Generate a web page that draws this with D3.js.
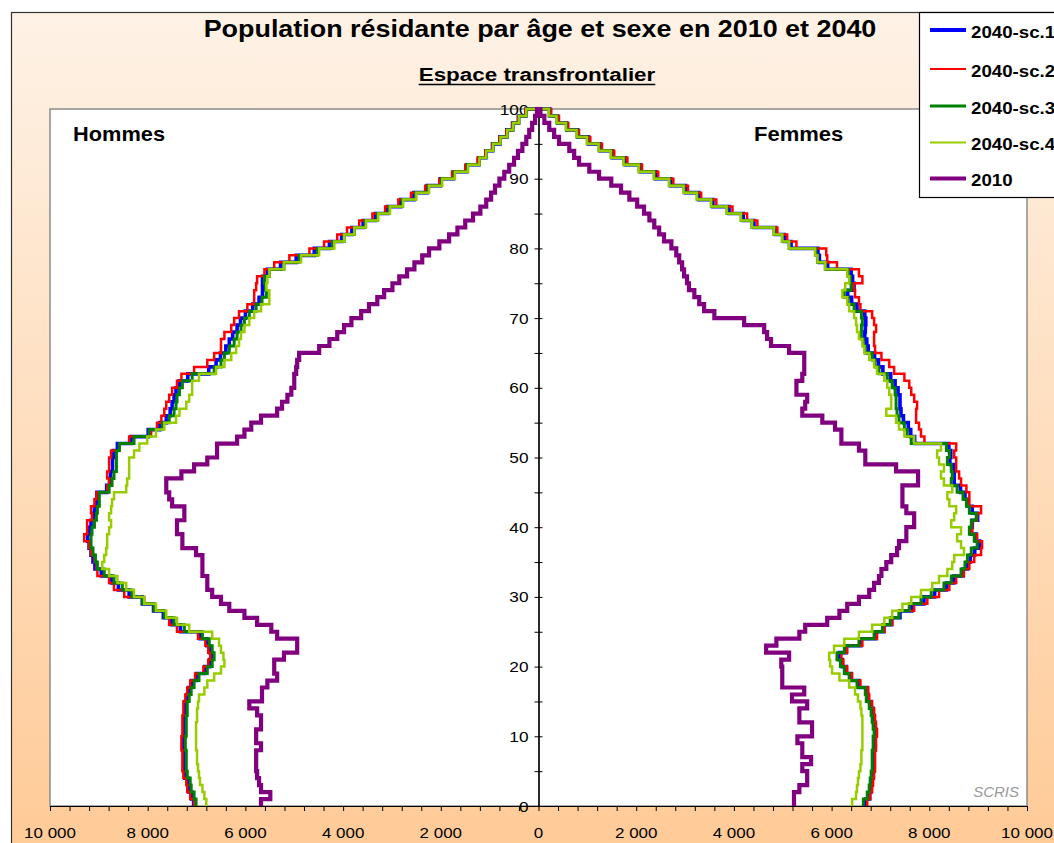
<!DOCTYPE html>
<html>
<head>
<meta charset="utf-8">
<title>Population résidante par âge et sexe en 2010 et 2040</title>
<script src="https://cdn.jsdelivr.net/npm/d3@7"></script>
<style>
  html, body { margin: 0; padding: 0; background: #fff; }
  svg { display: block; font-family: "Liberation Sans", Arial, Helvetica, sans-serif; }
</style>
</head>
<body>
<svg id="chart" width="1054" height="843"></svg>
<script>
// Single-year ages 0..99 (each value covers the band [age, age+1])
const ages = d3.range(0, 100);

// ---- Hommes ----
const men2040sc1 = [7060, 7100, 7160, 7180, 7240, 7260, 7260, 7260, 7280, 7280,
  7260, 7260, 7260, 7240, 7240, 7200, 7160, 7100, 7000, 6830,
  6730, 6690, 6730, 6790, 6930, 7330, 7520, 7680, 7880, 8110,
  8380, 8600, 8740, 8950, 9080, 9120, 9160, 9200, 9230, 9200,
  9160, 9110, 9090, 9050, 9040, 8840, 8780, 8760, 8720, 8720,
  8700, 8620, 8340, 7990, 7750, 7620, 7540, 7500, 7460, 7420,
  7350, 7180, 6750, 6600, 6510, 6400, 6330, 6260, 6170, 6100,
  6000, 5850, 5720, 5650, 5650, 5650, 5550, 5280, 4960, 4590,
  4280, 4030, 3820, 3590, 3340, 3090, 2820, 2550, 2280, 2010,
  1740, 1470, 1220, 1080, 940, 790, 650, 530, 410, 260];
const men2040sc2 = [7050, 7130, 7190, 7210, 7270, 7290, 7290, 7290, 7310, 7310,
  7290, 7290, 7290, 7270, 7270, 7230, 7190, 7130, 7030, 6860,
  6760, 6720, 6760, 6820, 6970, 7400, 7560, 7660, 7870, 8070,
  8480, 8690, 8790, 9030, 9050, 9090, 9160, 9200, 9300, 9240,
  9240, 9140, 9160, 9090, 9050, 8830, 8790, 8830, 8790, 8790,
  8750, 8580, 8380, 7930, 7810, 7720, 7660, 7620, 7560, 7500,
  7400, 7310, 7050, 6780, 6640, 6500, 6500, 6430, 6290, 6230,
  6130, 5960, 5820, 5820, 5780, 5760, 5610, 5410, 5100, 4690,
  4390, 4120, 3920, 3670, 3400, 3140, 2870, 2610, 2320, 2030,
  1770, 1500, 1250, 1090, 950, 800, 660, 540, 420, 270];
const men2040sc3 = [7010, 7050, 7110, 7130, 7190, 7210, 7210, 7210, 7230, 7230,
  7210, 7210, 7210, 7190, 7190, 7150, 7110, 7050, 6950, 6780,
  6680, 6640, 6680, 6740, 6880, 7250, 7460, 7660, 7870, 8110,
  8320, 8520, 8690, 8890, 9030, 9070, 9120, 9160, 9160, 9140,
  9090, 9050, 9030, 8990, 8990, 8790, 8730, 8690, 8640, 8640,
  8640, 8580, 8280, 7970, 7700, 7560, 7460, 7420, 7400, 7350,
  7290, 7090, 6640, 6500, 6430, 6330, 6230, 6170, 6090, 6020,
  5920, 5780, 5660, 5570, 5590, 5610, 5510, 5210, 4900, 4530,
  4220, 3980, 3770, 3550, 3300, 3060, 2790, 2520, 2260, 1990,
  1730, 1460, 1210, 1070, 930, 780, 640, 520, 400, 250];
const men2040sc4 = [6800, 6840, 6880, 6930, 6950, 6970, 6990, 6990, 7010, 7010,
  7010, 7010, 6990, 6990, 6970, 6950, 6840, 6780, 6640, 6500,
  6430, 6450, 6500, 6540, 6680, 7150, 7400, 7620, 7830, 8070,
  8280, 8440, 8620, 8790, 8930, 8890, 8850, 8830, 8830, 8790,
  8750, 8790, 8750, 8730, 8690, 8440, 8420, 8380, 8380, 8380,
  8280, 8170, 8010, 7830, 7660, 7420, 7350, 7210, 7150, 7090,
  7090, 6950, 6600, 6430, 6290, 6190, 6130, 6090, 6020, 5920,
  5820, 5680, 5510, 5510, 5570, 5550, 5510, 5210, 4860, 4490,
  4180, 3980, 3770, 3530, 3280, 3040, 2770, 2500, 2240, 1970,
  1710, 1440, 1210, 1070, 930, 780, 640, 520, 400, 250];
const men2010 = [5680, 5490, 5680, 5720, 5760, 5780, 5780, 5780, 5680, 5780,
  5780, 5680, 5680, 5760, 5920, 5660, 5660, 5550, 5350, 5410,
  5410, 5210, 4940, 4940, 5350, 5470, 5760, 6020, 6330, 6500,
  6680, 6780, 6780, 6880, 6880, 6880, 7010, 7290, 7290, 7400,
  7400, 7250, 7250, 7500, 7560, 7620, 7620, 7310, 7050, 6780,
  6580, 6580, 6170, 6020, 5880, 5680, 5350, 5250, 5140, 5060,
  5000, 5000, 4960, 4940, 4900, 4490, 4280, 4120, 3980, 3830,
  3630, 3470, 3300, 3160, 2990, 2850, 2690, 2540, 2380, 2240,
  2030, 1830, 1660, 1500, 1340, 1190, 1070, 970, 890, 800,
  700, 600, 500, 420, 330, 250, 190, 130, 70, 30];

// ---- Femmes ----
const women2040sc1 = [6700, 6780, 6810, 6830, 6850, 6870, 6870, 6870, 6890, 6890,
  6910, 6890, 6870, 6850, 6810, 6750, 6730, 6560, 6400, 6300,
  6220, 6160, 6300, 6600, 6910, 7070, 7230, 7400, 7640, 7890,
  8110, 8350, 8500, 8690, 8780, 8840, 8930, 9030, 8960, 8860,
  8880, 8990, 8880, 8790, 8730, 8640, 8510, 8510, 8490, 8420,
  8440, 8400, 7700, 7620, 7570, 7470, 7420, 7400, 7400, 7360,
  7300, 7210, 7050, 6960, 6880, 6750, 6720, 6680, 6690, 6700,
  6680, 6520, 6410, 6330, 6460, 6430, 6400, 5920, 5750, 5720,
  5170, 5030, 4850, 4410, 4190, 3900, 3570, 3280, 3010, 2710,
  2400, 2090, 1780, 1510, 1260, 1020, 800, 580, 390, 230];
const women2040sc2 = [6730, 6790, 6830, 6850, 6870, 6890, 6890, 6890, 6910, 6910,
  6930, 6910, 6890, 6870, 6830, 6770, 6750, 6590, 6420, 6320,
  6240, 6200, 6320, 6630, 6930, 7080, 7240, 7380, 7690, 7960,
  8200, 8410, 8550, 8710, 8820, 8920, 9060, 9080, 8980, 8880,
  8880, 8980, 9060, 8820, 8820, 8760, 8650, 8610, 8550, 8550,
  8510, 8550, 7900, 7830, 7790, 7730, 7730, 7750, 7690, 7630,
  7590, 7490, 7280, 7180, 7020, 6890, 6870, 6870, 6910, 6870,
  6830, 6590, 6560, 6480, 6460, 6630, 6560, 6110, 5910, 5890,
  5280, 5090, 4890, 4480, 4270, 3970, 3640, 3330, 3060, 2760,
  2450, 2120, 1820, 1550, 1300, 1060, 830, 610, 420, 260];
const women2040sc3 = [6650, 6730, 6770, 6790, 6810, 6830, 6830, 6830, 6850, 6850,
  6870, 6850, 6830, 6810, 6770, 6710, 6690, 6520, 6360, 6260,
  6180, 6110, 6260, 6560, 6870, 7040, 7200, 7380, 7590, 7830,
  8040, 8300, 8450, 8650, 8730, 8780, 8860, 8980, 8920, 8820,
  8860, 8960, 8820, 8760, 8690, 8570, 8450, 8470, 8450, 8370,
  8410, 8350, 7630, 7550, 7490, 7380, 7340, 7320, 7320, 7300,
  7240, 7140, 6970, 6890, 6830, 6690, 6650, 6610, 6610, 6630,
  6610, 6460, 6340, 6260, 6400, 6380, 6340, 5870, 5710, 5680,
  5130, 4990, 4820, 4370, 4150, 3860, 3540, 3250, 2980, 2680,
  2370, 2060, 1750, 1490, 1240, 1000, 790, 570, 380, 220];
const women2040sc4 = [6420, 6500, 6520, 6540, 6560, 6590, 6610, 6610, 6630, 6630,
  6630, 6630, 6630, 6610, 6590, 6540, 6480, 6360, 6160, 6010,
  5970, 5950, 6050, 6260, 6560, 6830, 7080, 7240, 7450, 7630,
  7830, 8060, 8200, 8370, 8470, 8510, 8710, 8650, 8570, 8650,
  8450, 8510, 8550, 8410, 8370, 8470, 8300, 8240, 8300, 8200,
  8160, 8240, 7690, 7490, 7380, 7320, 7120, 7220, 7220, 7180,
  7140, 7080, 6930, 6870, 6770, 6670, 6630, 6560, 6520, 6500,
  6460, 6360, 6320, 6220, 6280, 6360, 6320, 5870, 5710, 5660,
  5130, 4990, 4820, 4370, 4140, 3850, 3530, 3240, 2970, 2670,
  2360, 2050, 1740, 1480, 1230, 990, 780, 560, 370, 210];
const women2010 = [5230, 5230, 5340, 5500, 5500, 5400, 5580, 5400, 5400, 5300,
  5600, 5600, 5340, 5340, 5500, 5190, 5440, 4990, 4990, 4990,
  4970, 5130, 4660, 4870, 5340, 5460, 5910, 6160, 6320, 6560,
  6770, 6870, 6970, 7020, 7120, 7220, 7340, 7380, 7530, 7530,
  7690, 7690, 7530, 7450, 7450, 7450, 7770, 7770, 7320, 6690,
  6690, 6560, 6200, 6200, 6070, 5810, 5400, 5460, 5500, 5280,
  5280, 5400, 5440, 5440, 5440, 5130, 4760, 4680, 4620, 4210,
  3600, 3390, 3290, 3190, 3080, 3040, 2980, 2940, 2880, 2820,
  2720, 2570, 2470, 2370, 2270, 2160, 2020, 1860, 1690, 1490,
  1240, 1040, 830, 730, 630, 420, 320, 220, 120, 40];

// Series in drawing order (the 2010 curve is drawn last, on top)
const seriesNames = ["2040-sc.1", "2040-sc.2", "2040-sc.3", "2040-sc.4", "2010"];
const seriesColors = ["#0000FF", "#FF0000", "#008000", "#99CC00", "#800080"];
const menSeries = [men2040sc1, men2040sc2, men2040sc3, men2040sc4, men2010];
const womenSeries = [women2040sc1, women2040sc2, women2040sc3, women2040sc4, women2010];

// Axis ticks
const xLabelTicks = [-10000, -8000, -6000, -4000, -2000, 0, 2000, 4000, 6000, 8000, 10000];
const xMinorTicks = d3.range(-10000, 10001, 400);
const yLabelTicks = [0, 10, 20, 30, 40, 50, 60, 70, 80, 90, 100];
const yMinorTicks = d3.range(0, 101, 5);

// Text
const titleText = "Population résidante par âge et sexe en 2010 et 2040";
const subtitleText = "Espace transfrontalier";
const leftLabel = "Hommes";
const rightLabel = "Femmes";
const sourceText = "SCRIS";

// ---------------- drawing ----------------
const W = 1054, H = 843;
const svg = d3.select("#chart");

const plot = { left: 50, top: 109, right: 1027, bottom: 806 };
const xs = d3.scaleLinear().domain([-10000, 10000]).range([plot.left, plot.right]);
const ys = d3.scaleLinear().domain([0, 100]).range([plot.bottom, plot.top]);

// Stretched text helper (chart fonts are slightly wide)
function label(parent, x, y, s, o) {
  return parent.append("text")
    .attr("transform", `translate(${x},${y}) scale(${o.sx || 1},1)`)
    .attr("text-anchor", o.anchor || "start")
    .attr("font-size", o.size)
    .attr("font-weight", o.weight || "normal")
    .attr("font-style", o.style || "normal")
    .attr("fill", o.fill || "#000")
    .text(s);
}

// Chart area background
const defs = svg.append("defs");
const grad = defs.append("linearGradient")
  .attr("id", "bg").attr("x1", 0).attr("y1", 0).attr("x2", 0).attr("y2", 1);
grad.append("stop").attr("offset", "0%").attr("stop-color", "#FEF2E6");
grad.append("stop").attr("offset", "100%").attr("stop-color", "#FFC994");

svg.append("rect").attr("x", 11.5).attr("y", 12.5)
  .attr("width", W + 20).attr("height", H + 20)
  .attr("fill", "url(#bg)").attr("stroke", "#333").attr("stroke-width", 1.2);

// Plot area
svg.append("rect")
  .attr("x", plot.left).attr("y", plot.top)
  .attr("width", plot.right - plot.left).attr("height", plot.bottom - plot.top)
  .attr("fill", "#fff").attr("stroke", "#8c8c8c").attr("stroke-width", 1.5);

// Titles
label(svg, 540, 37, titleText, { size: 23, weight: "bold", anchor: "middle", sx: 1.17 });
const subSx = 1.18;
const sub = label(svg, 537, 81, subtitleText, { size: 19, weight: "bold", anchor: "middle", sx: subSx });
const subW = sub.node().getBBox().width * subSx;
svg.append("line")
  .attr("x1", 537 - subW / 2).attr("x2", 537 + subW / 2)
  .attr("y1", 84.5).attr("y2", 84.5)
  .attr("stroke", "#000").attr("stroke-width", 1.6);

label(svg, 73, 141, leftLabel, { size: 20, weight: "bold", sx: 1.09 });
label(svg, 754, 141, rightLabel, { size: 20, weight: "bold", sx: 1.1 });
label(svg, 1019, 797, sourceText, { size: 15, style: "italic", anchor: "end", fill: "#9a9a9a" });

// X axis
const xAxisG = svg.append("g")
  .attr("transform", `translate(0,${plot.bottom})`)
  .call(d3.axisBottom(xs).tickValues(xMinorTicks).tickSize(5).tickSizeOuter(0).tickFormat(""));
xAxisG.select(".domain").attr("stroke", "#000").attr("stroke-width", 1.2);
xAxisG.selectAll(".tick line").attr("stroke", "#000");

const fmt = d3.formatLocale({ decimal: ",", thousands: " ", grouping: [3], currency: ["", ""] }).format(",");
xLabelTicks.forEach(t => {
  label(svg, xs(t), 838, fmt(Math.abs(t)), { size: 15, anchor: "middle", sx: 1.13 });
});

// Y axis at zero (ticks cross the axis line)
const yAxisL = svg.append("g")
  .attr("transform", `translate(${xs(0)},0)`)
  .call(d3.axisLeft(ys).tickValues(yMinorTicks).tickSize(4).tickSizeOuter(0).tickFormat(""));
const yAxisR = svg.append("g")
  .attr("transform", `translate(${xs(0)},0)`)
  .call(d3.axisRight(ys).tickValues(yMinorTicks).tickSize(4).tickSizeOuter(0).tickFormat(""));
[yAxisL, yAxisR].forEach(g => {
  g.select(".domain").attr("stroke", "#000").attr("stroke-width", 1.2);
  g.selectAll(".tick line").attr("stroke", "#000");
});

yLabelTicks.forEach(t => {
  label(svg, xs(0) - 10, ys(t) + 5.5, String(t), { size: 15, anchor: "end", sx: 1.15 });
});

// Pyramid step lines
const widths = [3.6, 2.5, 3, 2.5, 4.2];
const stepLine = d3.line().x(d => xs(d[0])).y(d => ys(d[1]));

function stepPoints(values, sign) {
  const pts = [];
  ages.forEach((a, i) => {
    pts.push([sign * values[i], a]);
    pts.push([sign * values[i], a + 1]);
  });
  pts.push([0, 100]);
  return pts;
}

const linesG = svg.append("g").attr("fill", "none").attr("stroke-linejoin", "miter");
seriesNames.forEach((name, k) => {
  [[menSeries[k], -1], [womenSeries[k], 1]].forEach(([vals, sign]) => {
    linesG.append("path")
      .attr("d", stepLine(stepPoints(vals, sign)))
      .attr("stroke", seriesColors[k])
      .attr("stroke-width", widths[k]);
  });
});

// Legend
const legendG = svg.append("g");
legendG.append("rect").attr("x", 919.5).attr("y", 12.5)
  .attr("width", 200).attr("height", 185)
  .attr("fill", "#fff").attr("stroke", "#000").attr("stroke-width", 1.2);
const legendLineY = [30, 69, 106, 142.5, 178.5];
const legendWidths = [4, 2.2, 2.8, 2.2, 4];
seriesNames.forEach((name, k) => {
  legendG.append("line")
    .attr("x1", 930).attr("x2", 966)
    .attr("y1", legendLineY[k]).attr("y2", legendLineY[k])
    .attr("stroke", seriesColors[k]).attr("stroke-width", legendWidths[k]);
  label(legendG, 971, legendLineY[k] + 7.5, name, { size: 17, weight: "bold", sx: 1.1 });
});
</script>
</body>
</html>
